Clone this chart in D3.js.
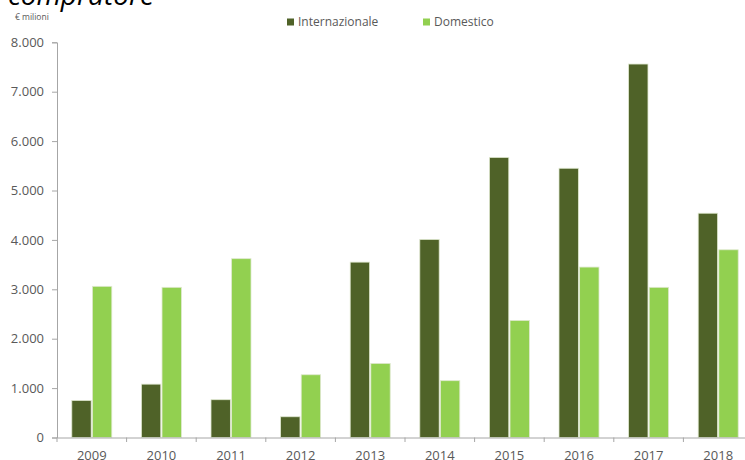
<html>
<head>
<meta charset="utf-8">
<script src="https://d3js.org/d3.v7.min.js"></script>
<style>
  body { margin: 0; overflow: hidden; background: #fff; }
  text { font-family: "Open Sans", sans-serif; }
</style>
</head>
<body>
<svg id="chart" width="745" height="460"></svg>
<script>
// data (€ milioni)
var years = ["2009","2010","2011","2012","2013","2014","2015","2016","2017","2018"];
var series = ["Internazionale", "Domestico"];
var internazionale = [750, 1080, 765, 420, 3550, 4010, 5670, 5450, 7560, 4540];
var domestico = [3060, 3040, 3620, 1270, 1500, 1150, 2370, 3450, 3040, 3800];
var yTicks = [0, 1000, 2000, 3000, 4000, 5000, 6000, 7000, 8000];
var colors = ["#4f6228", "#92d050"];

var it = d3.formatLocale({decimal: ",", thousands: ".", grouping: [3], currency: ["€", ""]});
var fmt = it.format(",");

var svg = d3.select("#chart");

var x = d3.scaleBand().domain(years).range([57, 753]).padding(0);
var x1 = d3.scaleBand().domain(series).range([0, 40]).paddingInner(0.06);
var y = d3.scaleLinear().domain([0, 8000]).range([437.5, 42.3]);

// title fragment (cut off at top)
svg.append("text")
  .attr("x", 8).attr("y", 5)
  .style("font-size", "28px").style("font-style", "italic").attr("fill", "#000")
  .text("compratore");

svg.append("text")
  .attr("x", 15).attr("y", 19.5)
  .style("font-size", "8.5px").attr("fill", "#595959")
  .text("€ milioni");

// bars
var rows = years.map(function(yr, i) { return {year: yr, vals: [internazionale[i], domestico[i]]}; });
var groups = svg.append("g").selectAll("g").data(rows).enter().append("g")
  .attr("transform", function(d) { return "translate(" + (x(d.year) + x.bandwidth() / 2 - 20) + ",0)"; });
groups.selectAll("rect")
  .data(function(d) { return d.vals.map(function(v, j) { return {s: series[j], v: v, c: colors[j]}; }); })
  .enter().append("rect")
  .attr("x", function(d) { return x1(d.s); })
  .attr("y", function(d) { return y(d.v); })
  .attr("width", x1.bandwidth())
  .attr("height", function(d) { return y(0) - y(d.v); })
  .attr("fill", function(d) { return d.c; })
  .attr("stroke", "#dfe8cf").attr("stroke-width", 0.8);

// y axis
var yAxis = svg.append("g").attr("transform", "translate(57,0)")
  .call(d3.axisLeft(y).tickValues(yTicks).tickFormat(fmt).tickSize(5).tickPadding(8));
yAxis.select(".domain").attr("stroke", "#a6a6a6");
yAxis.selectAll(".tick line").attr("stroke", "#a6a6a6");
yAxis.selectAll("text").style("font-size", "13px").attr("fill", "#595959").style("font-family", "'Open Sans', sans-serif");

// x axis
var xAxis = svg.append("g").attr("transform", "translate(0,437.5)")
  .call(d3.axisBottom(x).tickSize(0).tickPadding(13));
xAxis.select(".domain").attr("stroke", "#a6a6a6");
xAxis.selectAll("text").style("font-size", "13px").attr("fill", "#595959").style("font-family", "'Open Sans', sans-serif");
svg.append("g").selectAll("line").data(years).enter().append("line")
  .attr("x1", function(d) { return x(d); }).attr("x2", function(d) { return x(d); })
  .attr("y1", 437.5).attr("y2", 442)
  .attr("stroke", "#a6a6a6");

// legend
var legendX = [287, 423];
var leg = svg.append("g").selectAll("g").data(series).enter().append("g")
  .attr("transform", function(d, i) { return "translate(" + legendX[i] + ",18.5)"; });
leg.append("rect").attr("width", 7).attr("height", 7)
  .attr("fill", function(d, i) { return colors[i]; });
leg.append("text").attr("x", 11).attr("y", 7)
  .style("font-size", "12px").attr("fill", "#595959")
  .text(function(d) { return d; });
</script>
</body>
</html>
